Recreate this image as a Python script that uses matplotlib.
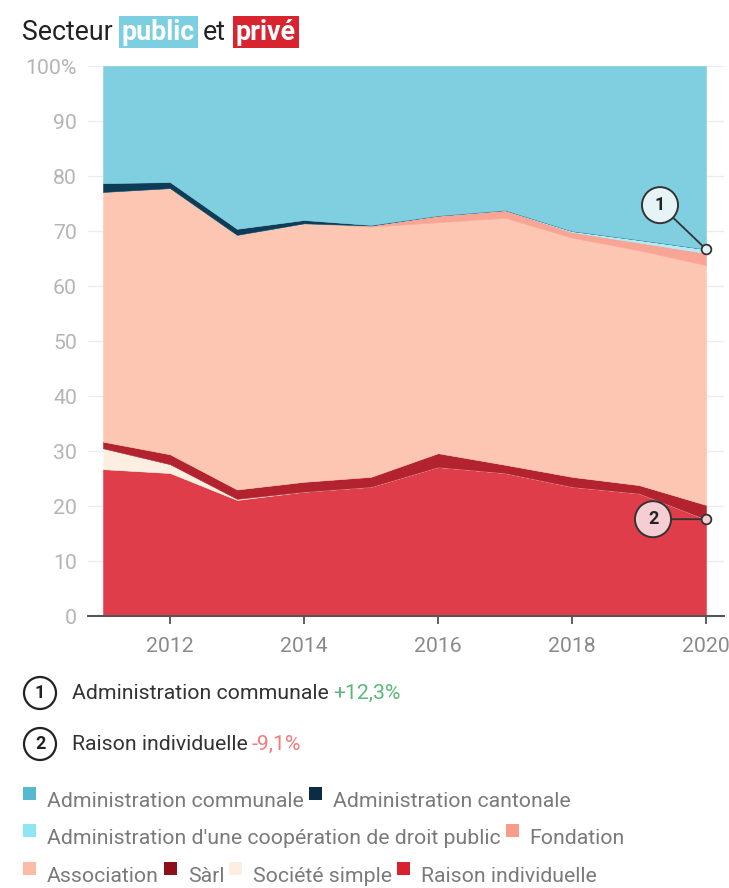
import matplotlib
matplotlib.use("Agg")
import matplotlib.pyplot as plt
import matplotlib.transforms as mtransforms
from matplotlib.patches import Rectangle, Circle
import numpy as np

plt.rcParams['font.family'] = ['Roboto', 'DejaVu Sans']

# ---------------- data ----------------
years = [2011, 2012, 2013, 2014, 2015, 2016, 2017, 2018, 2019, 2020]
raison_individuelle = [26.7, 26.0, 21.1, 22.6, 23.5, 27.1, 26.0, 23.5, 22.3, 17.6]
societe_simple = [3.8, 1.6, 0.2, 0.0, 0.0, 0.0, 0.0, 0.0, 0.0, 0.0]
sarl = [1.2, 1.8, 1.7, 1.8, 1.8, 2.5, 1.5, 1.8, 1.5, 2.6]
association = [45.4, 48.4, 46.3, 47.0, 45.5, 42.0, 44.9, 43.5, 42.7, 43.6]
fondation = [0.0, 0.0, 0.0, 0.0, 0.2, 1.2, 1.4, 1.0, 1.4, 2.2]
cooperation = [0.0, 0.0, 0.0, 0.0, 0.0, 0.0, 0.0, 0.2, 0.5, 0.7]
cantonale = [1.6, 1.1, 1.1, 0.6, 0.1, 0.0, 0.0, 0.0, 0.0, 0.0]
communale = [100 - sum(v) for v in zip(raison_individuelle, societe_simple, sarl, association,
                                        fondation, cooperation, cantonale)]

series_names = ["Raison individuelle", "Société simple", "Sàrl", "Association", "Fondation",
                "Administration d'une coopération de droit public", "Administration cantonale",
                "Administration communale"]
series_values = [raison_individuelle, societe_simple, sarl, association, fondation,
                 cooperation, cantonale, communale]
colors = {"Raison individuelle": "#e03d4a", "Société simple": "#fcefe2", "Sàrl": "#b3232f",
          "Association": "#fdc6b2", "Fondation": "#f9a596",
          "Administration d'une coopération de droit public": "#b0ecf5",
          "Administration cantonale": "#0e3c57", "Administration communale": "#80cfe0"}
legend_colors = {"Raison individuelle": "#d8202e", "Société simple": "#fcefe2", "Sàrl": "#8e0f19",
                 "Association": "#fdbba6", "Fondation": "#f99c8b",
                 "Administration d'une coopération de droit public": "#8ee6f3",
                 "Administration cantonale": "#0c2c45", "Administration communale": "#56b9d0"}

yticks = [0, 10, 20, 30, 40, 50, 60, 70, 80, 90, 100]
ytick_labels = ["0", "10", "20", "30", "40", "50", "60", "70", "80", "90", "100%"]
xticks = [2012, 2014, 2016, 2018, 2020]

annotations = [("1", "Administration communale", "+12,3%", "#5cb878", "#e6f3f7"),
               ("2", "Raison individuelle", "-9,1%", "#f07c7c", "#f5cdd3")]
annot_points = [(2020, 66.7), (2020, 17.6)]

legend_rows = [["Administration communale", "Administration cantonale"],
               ["Administration d'une coopération de droit public", "Fondation"],
               ["Association", "Sàrl", "Société simple", "Raison individuelle"]]

# ---------------- figure ----------------
W, H = 729, 888
FS = 15.3
fig = plt.figure(figsize=(W / 100, H / 100), dpi=100)
fig.patch.set_facecolor("white")
ax = fig.add_axes([88 / W, 1 - 616 / H, (724 - 88) / W, (616 - 66) / H])

cols = [colors[n] for n in series_names]
polys = ax.stackplot(years, *series_values, colors=cols, linewidth=0.4, zorder=2)
for p, c in zip(polys, cols):
    p.set_edgecolor(c)
ax.set_xlim(2011 - 15 / 67, 2020 + 18 / 67)
ax.set_ylim(0, 100)
ax.set_yticks(yticks)
ax.set_yticklabels(ytick_labels)
ax.set_xticks(xticks)
ax.set_xticklabels([str(x) for x in xticks])
ax.yaxis.grid(True, color="#ececec", linewidth=1, zorder=0)
ax.set_axisbelow(True)
for s in ["left", "right", "top"]:
    ax.spines[s].set_visible(False)
ax.spines["bottom"].set_color("#555555")
ax.spines["bottom"].set_linewidth(1.5)
ax.spines["bottom"].set_zorder(5)
ax.tick_params(axis="y", length=0, pad=8, labelsize=FS, labelcolor="#b5b5b5")
ax.tick_params(axis="x", length=6, width=1.2, color="#444444", pad=9, labelsize=FS,
               labelcolor="#8a8a8a")

# in-chart annotations
offsets = [(-46, 44), (-53, 0)]
for (num, _, _, _, fc), (px, py), (ox, oy) in zip(annotations, annot_points, offsets):
    ax.annotate(num, xy=(px, py), xytext=(ox, oy), textcoords="offset pixels",
                ha="center", va="center", fontsize=13, fontweight="bold", color="#222222",
                bbox=dict(boxstyle="circle,pad=0.5", fc=fc, ec="#333333", lw=1.4),
                arrowprops=dict(arrowstyle="-", color="#333333", lw=1.3, shrinkA=0, shrinkB=3),
                zorder=10, annotation_clip=False)
    ax.plot([px], [py], marker="o", ms=7, mfc=fc, mec="#333333", mew=1.3, zorder=11,
            clip_on=False)

# ---------------- texts in pixel coordinates ----------------
ident = mtransforms.IdentityTransform()
renderer = fig.canvas.get_renderer()


def place(x, y_top_px, text, **kw):
    t = fig.text(x, H - y_top_px, text, transform=ident, va="center", ha="left", **kw)
    bb = t.get_window_extent(renderer=renderer)
    return t, bb.x1


# title
TFS = 19.3
_, x = place(22, 32, "Secteur", fontsize=TFS, color="#222222")
t, x1 = place(x + 9, 32, "public", fontsize=TFS, color="white", fontweight="bold")
t.set_bbox(dict(boxstyle="square,pad=0.1", fc="#7ccfe0", ec="none"))
_, x = place(x1 + 8, 32, "et", fontsize=TFS, color="#222222")
t, x1 = place(x + 10, 32, "privé", fontsize=TFS, color="white", fontweight="bold")
t.set_bbox(dict(boxstyle="square,pad=0.1", fc="#d8242f", ec="none"))

# numbered notes
for (num, label, delta, dcol, _), yc in zip(annotations, [693, 744]):
    fig.add_artist(Circle((40, H - yc), 16, transform=ident, fc="white", ec="#222222", lw=1.6))
    fig.text(40, H - yc, num, transform=ident, ha="center", va="center", fontsize=13,
             fontweight="bold", color="#222222")
    _, x = place(72, yc, label, fontsize=FS, color="#333333")
    place(x + 4, yc, delta, fontsize=FS, color=dcol)

# legend
for row, yc in zip(legend_rows, [801, 838, 876]):
    x = 23
    for name in row:
        fig.add_artist(Rectangle((x, H - yc + 1), 13, 13, transform=ident,
                                 fc=legend_colors[name], ec="none"))
        _, x1 = place(x + 24, yc, name, fontsize=FS, color="#7a7a7a")
        x = x1 + 5

fig.savefig("out.png", dpi=100, facecolor="white")
